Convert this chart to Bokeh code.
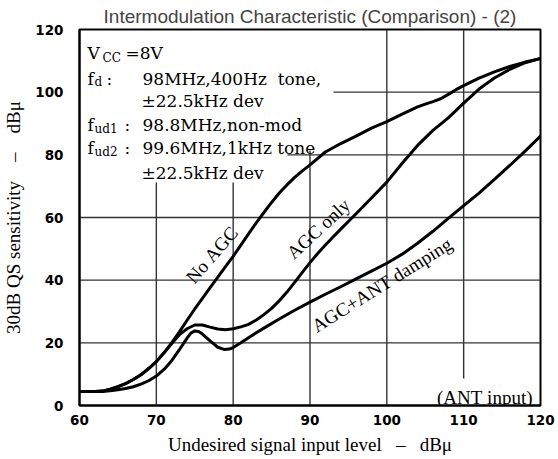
import math
from bokeh.plotting import figure
from bokeh.models import Label, Range1d, FixedTicker
from bokeh.embed import file_html
from bokeh.resources import INLINE

# ---------------- data ----------------
x_ticks = [60, 70, 80, 90, 100, 110, 120]
y_ticks = [0, 20, 40, 60, 80, 100, 120]

no_agc_x = [60, 62, 63, 64, 65, 66, 67, 68, 69, 70, 71, 72, 73, 74, 75, 76, 77, 78, 79, 80,
            81, 82, 83, 84, 85, 86, 87, 88, 89, 90, 92, 94, 96, 98, 100, 102, 104, 105, 106,
            107, 108, 109, 110, 112, 114, 116, 118, 120]
no_agc_y = [4.5, 4.5, 4.6, 5.2, 6.0, 7.0, 8.3, 9.8, 11.8, 14.0, 16.8, 20.0, 23.5, 27.2, 30.8,
            34.2, 37.6, 41.0, 44.3, 47.6, 51.2, 54.8, 58.3, 61.6, 64.8, 67.8, 70.4, 72.8, 74.9,
            76.8, 80.9, 83.6, 86.0, 88.5, 90.6, 93.0, 95.3, 96.2, 97.0, 97.9, 99.3, 100.8, 102.1,
            104.5, 106.5, 108.2, 109.6, 110.7]

agc_only_x = [60, 62, 63, 64, 65, 66, 67, 68, 69, 70, 71, 72, 73, 74, 75, 76, 77, 78, 79, 80,
              81, 82, 83, 84, 85, 86, 87, 88, 89, 90, 91, 92, 93, 94, 96, 98, 100, 102, 104,
              106, 108, 110, 112, 114, 116, 118, 120]
agc_only_y = [4.5, 4.5, 4.6, 5.2, 6.0, 7.0, 8.3, 9.8, 11.8, 14.0, 16.8, 19.8, 22.6, 24.5, 25.7,
              25.7, 25.0, 24.4, 24.2, 24.5, 25.1, 25.9, 27.3, 29.0, 31.0, 33.4, 36.2, 39.3, 42.5,
              45.6, 48.5, 51.2, 53.8, 56.3, 61.2, 66.2, 71.3, 77.3, 83.0, 87.8, 91.8, 96.5,
              101.0, 104.5, 107.3, 109.4, 110.8]

agc_ant_x = [60, 62, 63, 64, 65, 66, 67, 68, 69, 70, 71, 72, 73, 74, 74.5, 75, 75.5, 76, 77,
             78, 78.8, 79.5, 80, 81, 82, 83, 84, 86, 88, 90, 92, 94, 96, 98, 100, 102, 104,
             106, 108, 110, 112, 114, 116, 118, 120]
agc_ant_y = [4.5, 4.5, 4.5, 4.7, 5.0, 5.4, 6.0, 6.8, 7.9, 9.4, 11.5, 14.3, 17.8, 21.5, 23.1,
             23.8, 23.6, 22.8, 20.6, 18.6, 17.9, 18.0, 18.5, 20.0, 21.6, 23.2, 24.7, 27.6,
             30.4, 33.0, 35.5, 37.9, 40.4, 42.9, 45.4, 48.3, 51.8, 55.6, 59.7, 63.8, 67.8,
             72.2, 76.6, 81.2, 86.0]

NB = "\u00a0"
title_text = "Intermodulation Characteristic (Comparison) - (2)"
x_label = "Undesired signal input level" + NB * 3 + "\u2013" + NB * 3 + "dB\u03bc"
y_label = "30dB QS sensitivity" + NB * 4 + "\u2013" + NB * 4 + "dB\u03bc"

# ---------------- layout ----------------
W, H = 558, 459
FL, FR, FT, FB = 79, 540, 29, 405
X0, X1, Y0, Y1 = 60, 120, 0, 120


def dx(px):
    return X0 + (px - FL) * (X1 - X0) / (FR - FL)


def dy(py):
    return Y0 + (FB - py) * (Y1 - Y0) / (FB - FT)


p = figure(width=W, height=H, output_backend="svg", toolbar_location=None,
           x_range=Range1d(X0, X1), y_range=Range1d(Y0, Y1),
           min_border_left=FL, min_border_right=W - FR,
           min_border_top=FT, min_border_bottom=H - FB,
           title=title_text)
p.outline_line_color = "black"
p.outline_line_width = 2
p.grid.grid_line_color = None

p.title.text_font = "Liberation Sans"
p.title.text_font_size = "19px"
p.title.text_font_style = "normal"
p.title.align = "center"
p.title.standoff = 6

for ax, ticks in ((p.xaxis, x_ticks), (p.yaxis, y_ticks)):
    ax.ticker = FixedTicker(ticks=ticks)
    ax.major_tick_line_color = None
    ax.minor_tick_line_color = None
    ax.axis_line_width = 2
    ax.axis_line_color = "black"
    ax.major_label_text_font = "DejaVu Sans"
    ax.major_label_text_font_style = "bold"
    ax.major_label_text_font_size = "13.5px"
    ax.major_label_text_color = "black"
    ax.axis_label_text_font = "Liberation Serif"
    ax.axis_label_text_font_size = "19px"
    ax.axis_label_text_font_style = "normal"
    ax.axis_label_text_color = "black"

p.xaxis.axis_label = x_label
p.yaxis.axis_label = y_label
p.xaxis.major_label_standoff = 3
p.yaxis.major_label_standoff = 10
p.xaxis.axis_label_standoff = 6
p.yaxis.axis_label_standoff = 8

# grid lines drawn from the tick lists, interrupted behind the condition text
mask_a = (dx(333), dy(150))
mask_b = (dx(287), dy(182))
label_gap = (dx(428), dy(378))

for t in x_ticks[1:-1]:
    top = Y1
    if t < mask_b[0]:
        top = mask_b[1]
    elif t < mask_a[0]:
        top = mask_a[1]
    bottom = label_gap[1] if t > label_gap[0] else Y0
    p.line([t, t], [bottom, top], line_color="#333333", line_width=1.4)
for t in y_ticks[1:-1]:
    left = X0
    if t > mask_a[1]:
        left = mask_a[0]
    elif t > mask_b[1]:
        left = mask_b[0]
    p.line([left, X1], [t, t], line_color="#333333", line_width=1.4)

# curves
for xs, ys in ((no_agc_x, no_agc_y), (agc_only_x, agc_only_y), (agc_ant_x, agc_ant_y)):
    p.line(xs, ys, line_color="black", line_width=3, line_join="round", line_cap="round")

# curve labels
curve_labels = [("No" + NB + "AGC", 189, 280, 49), ("AGC" + NB + "only", 289, 255, 43),
                ("AGC+ANT" + NB + "damping", 313, 327, 32)]
for txt, px, py, ang in curve_labels:
    p.add_layout(Label(x=dx(px), y=dy(py), text=txt, angle=math.radians(ang),
                       text_font="Liberation Serif", text_font_size="19px",
                       text_align="left", text_baseline="alphabetic", text_color="black"))

p.add_layout(Label(x=dx(532), y=dy(397), text="(ANT" + NB + "input)", text_font="Liberation Serif",
                   text_font_size="19px", text_align="right", text_baseline="alphabetic",
                   text_color="black"))

# condition block
MAIN = "17px"
SUB = "12px"
cond = [
    ("V", 87, 52, MAIN), ("CC", 102, 57, SUB), ("=8V", 125, 52, MAIN),
    ("f", 87, 78, MAIN), ("d", 94, 81, SUB), (":", 106, 78, MAIN),
    ("98MHz,400Hz" + NB * 2 + "tone,", 142, 78, MAIN),
    ("\u00b122.5kHz" + NB + "dev", 141, 100, MAIN),
    ("f", 87, 124, MAIN), ("ud1", 94, 128, SUB), (":", 124, 124, MAIN),
    ("98.8MHz,non-mod", 142, 124, MAIN),
    ("f", 87, 147, MAIN), ("ud2", 94, 151, SUB), (":", 124, 147, MAIN),
    ("99.6MHz,1kHz" + NB + "tone", 142, 147, MAIN),
    ("\u00b122.5kHz" + NB + "dev", 141, 172, MAIN),
]
for txt, px, py, fs in cond:
    p.add_layout(Label(x=dx(px), y=dy(py), text=txt, text_font="DejaVu Serif",
                       text_font_size=fs, text_align="left", text_baseline="alphabetic",
                       text_color="black"))

open("out.html", "w").write(file_html(p, INLINE))
